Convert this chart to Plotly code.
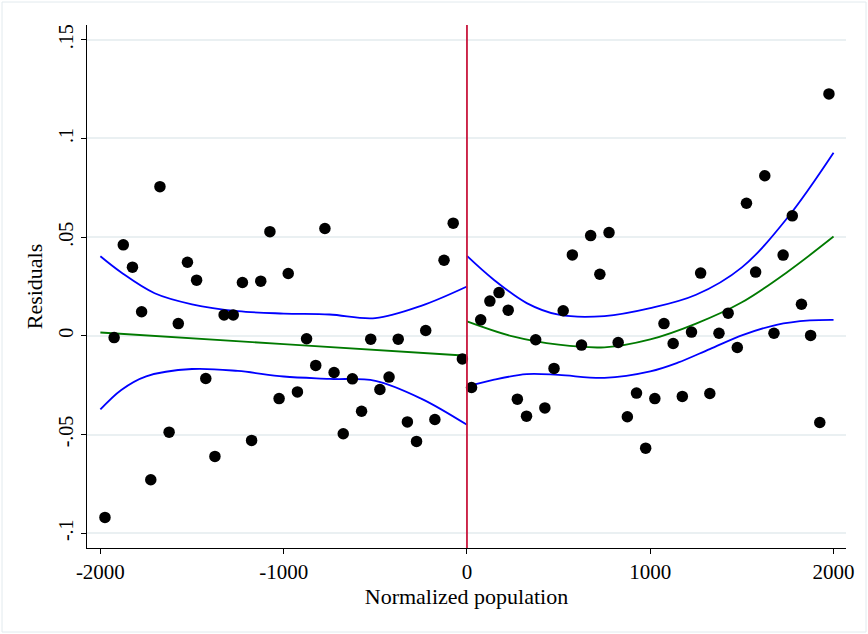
import plotly.graph_objects as go

# ---- data ----
left_x = [-1975, -1925, -1875, -1825, -1775, -1725, -1675, -1625, -1575, -1525,
          -1475, -1425, -1375, -1325, -1275, -1225, -1175, -1125, -1075, -1025,
          -975, -925, -875, -825, -775, -725, -675, -625, -575, -525,
          -475, -425, -375, -325, -275, -225, -175, -125, -75, -25]
left_y = [-0.0920, -0.0009, 0.0461, 0.0348, 0.0122, -0.0729, 0.0756, -0.0488, 0.0062, 0.0373,
          0.0282, -0.0216, -0.0611, 0.0106, 0.0106, 0.0270, -0.0530, 0.0277, 0.0528, -0.0318,
          0.0316, -0.0284, -0.0015, -0.0150, 0.0544, -0.0186, -0.0496, -0.0218, -0.0382, -0.0017,
          -0.0272, -0.0209, -0.0017, -0.0436, -0.0535, 0.0027, -0.0424, 0.0383, 0.0571, -0.0117]

right_x = [25, 75, 125, 175, 225, 275, 325, 375, 425, 475,
           525, 575, 625, 675, 725, 775, 825, 875, 925, 975,
           1025, 1075, 1125, 1175, 1225, 1275, 1325, 1375, 1425, 1475,
           1525, 1575, 1625, 1675, 1725, 1775, 1825, 1875, 1925, 1975]
right_y = [-0.0262, 0.0081, 0.0176, 0.0219, 0.0130, -0.0321, -0.0407, -0.0020, -0.0365, -0.0165,
           0.0127, 0.0410, -0.0047, 0.0508, 0.0312, 0.0523, -0.0034, -0.0410, -0.0290, -0.0569,
           -0.0318, 0.0062, -0.0039, -0.0307, 0.0019, 0.0318, -0.0292, 0.0013, 0.0115, -0.0059,
           0.0672, 0.0323, 0.0811, 0.0013, 0.0409, 0.0608, 0.0160, 0.0002, -0.0439, 0.1226]

# fitted line and confidence band, read at sample points
fitL_x = [-2000, -1000, 0]
fitL_y = [0.0017, -0.0042, -0.0101]
upL_x = [-2000, -1886, -1704, -1500, -1250, -1000, -750, -500, -250, 0]
upL_y = [0.0403, 0.0321, 0.0216, 0.0160, 0.0125, 0.0113, 0.0108, 0.0090, 0.0152, 0.0250]
loL_x = [-2000, -1886, -1750, -1500, -1250, -1000, -750, -500, -250, 0]
loL_y = [-0.0373, -0.0274, -0.0205, -0.0168, -0.0178, -0.0206, -0.0218, -0.0228, -0.0318, -0.0451]

fitR_x = [0, 250, 500, 750, 1000, 1250, 1500, 1750, 2000]
fitR_y = [0.0073, -0.0003, -0.0045, -0.0058, -0.0018, 0.0062, 0.0170, 0.0325, 0.0503]
upR_x = [0, 143, 326, 500, 750, 1000, 1250, 1500, 1750, 2000]
upR_y = [0.0405, 0.0287, 0.0166, 0.0107, 0.0100, 0.0140, 0.0208, 0.0347, 0.0600, 0.0928]
loR_x = [0, 143, 326, 500, 750, 1000, 1150, 1325, 1507, 1689, 1871, 2000]
loR_y = [-0.0257, -0.0223, -0.0194, -0.0198, -0.0213, -0.0180, -0.0136, -0.0067, 0.0005, 0.0056, 0.0078, 0.0081]

y_tickvals = [-0.1, -0.05, 0, 0.05, 0.1, 0.15]
y_ticktext = ["-.1", "-.05", "0", ".05", ".1", ".15"]
x_tickvals = [-2000, -1000, 0, 1000, 2000]
x_ticktext = ["-2000", "-1000", "0", "1000", "2000"]

FONT = "Liberation Serif, Times New Roman, serif"

fig = go.Figure()
line_spec = dict(shape="spline", smoothing=1.0)
for xs, ys, col in [(upL_x, upL_y, "#0000ff"), (loL_x, loL_y, "#0000ff"), (fitL_x, fitL_y, "#007a00"),
                    (upR_x, upR_y, "#0000ff"), (loR_x, loR_y, "#0000ff"), (fitR_x, fitR_y, "#007a00")]:
    fig.add_trace(go.Scatter(x=xs, y=ys, mode="lines",
                             line=dict(color=col, width=1.8, **line_spec),
                             hoverinfo="skip", showlegend=False))

fig.add_trace(go.Scatter(x=left_x + right_x, y=left_y + right_y, mode="markers",
                         marker=dict(color="black", size=11.5), showlegend=False))

fig.add_vline(x=0, line=dict(color="#c8163c", width=1.8), layer="above")

# light outer frame of the graph region
fig.add_shape(type="rect", xref="paper", yref="paper",
              x0=-85 / 759, x1=(866 - 87) / 759, y0=(548 - 632) / 523, y1=(548 - 2) / 523,
              line=dict(color="#e2eaee", width=1), fillcolor="rgba(0,0,0,0)", layer="below")

fig.update_layout(
    width=868, height=634,
    margin=dict(l=87, r=22, t=25, b=86),
    paper_bgcolor="white", plot_bgcolor="white",
    font=dict(family=FONT, size=21, color="black"),
    showlegend=False,
)
fig.update_xaxes(range=[-2073, 2068], tickvals=x_tickvals, ticktext=x_ticktext,
                 showgrid=False, zeroline=False, showline=True, linecolor="black", linewidth=1.2,
                 ticks="outside", ticklen=5, tickcolor="black", tickwidth=1.2,
                 title=dict(text="Normalized population", font=dict(size=22), standoff=4),
                 tickfont=dict(size=21))
fig.update_yaxes(range=[-0.1075, 0.1575], tickvals=y_tickvals, ticktext=y_ticktext,
                 showgrid=True, gridcolor="#eaf0f2", gridwidth=1.5, zeroline=False,
                 showline=True, linecolor="black", linewidth=1.2,
                 ticks="outside", ticklen=5, tickcolor="black", tickwidth=1.2, tickangle=-90,
                 title=dict(text="Residuals", font=dict(size=22), standoff=6),
                 tickfont=dict(size=20))

fig.write_html("out.html")
